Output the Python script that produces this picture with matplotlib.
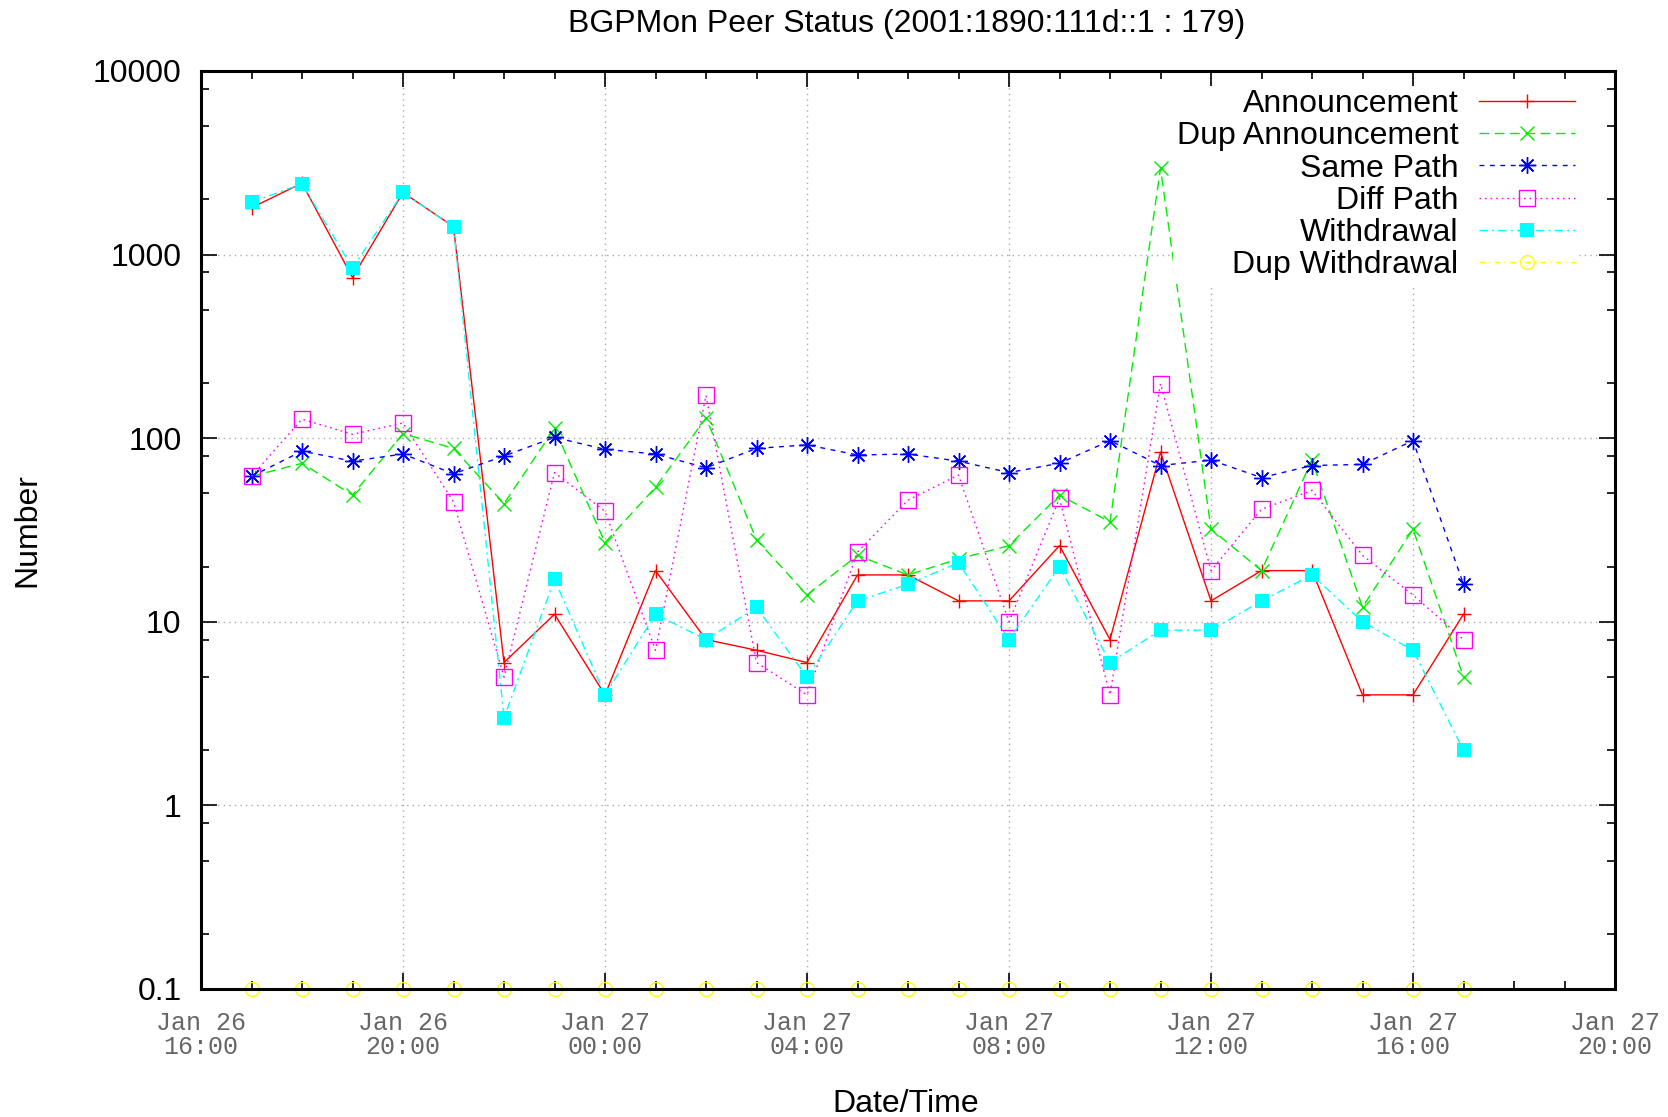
import matplotlib
matplotlib.use("Agg")
import matplotlib.pyplot as plt
import matplotlib.dates as mdates
from matplotlib.ticker import LogLocator, FixedLocator, FuncFormatter, NullFormatter
from datetime import datetime, timedelta

# ---- data -------------------------------------------------------------
start = datetime(2010, 1, 26, 17, 0)
times = [start + timedelta(hours=h) for h in range(25)]

announcement = [1800, 2450, 750, 2180, 1420, 6, 11, 4, 19, 8, 7, 6, 18, 18,
                13, 13, 26, 8, 84, 13, 19, 19, 4, 4, 11]
dup_announcement = [62, 73, 49, 106, 88, 44, 113, 27, 54, 129, 28, 14, 23, 18,
                    22, 26, 49, 35, 2950, 32, 19, 76, 12, 32, 5]
same_path = [62, 85, 75, 82, 64, 80, 101, 87, 82, 69, 88, 92, 81, 82,
             75, 65, 73, 97, 71, 76, 61, 71, 72, 97, 16]
diff_path = [62, 127, 105, 121, 45, 5, 65, 40, 7, 171, 6, 4, 24, 46,
             63, 10, 47, 4, 198, 19, 41, 52, 23, 14, 8]
withdrawal = [1930, 2430, 845, 2180, 1420, 3, 17, 4, 11, 8, 12, 5, 13, 16,
              21, 8, 20, 6, 9, 9, 13, 18, 10, 7, 2]
dup_withdrawal = [0.1] * 25

series_labels = ["Announcement", "Dup Announcement", "Same Path", "Diff Path",
                 "Withdrawal", "Dup Withdrawal"]

xmin = datetime(2010, 1, 26, 16, 0)
xmax = datetime(2010, 1, 27, 20, 0)
ytick_vals = [0.1, 1, 10, 100, 1000, 10000]

# ---- figure -----------------------------------------------------------
W, H = 1668, 1117
fig = plt.figure(figsize=(W / 100, H / 100), dpi=100)
L, R, T, B = 201, 1615, 71, 989
ax = fig.add_axes([L / W, 1 - B / H, (R - L) / W, (B - T) / H])

sans = "Liberation Sans"
mono = "Liberation Mono"
FS = 23

lw = 1.0
ax.plot(times, announcement, color="#ff0000", lw=lw, ls="-",
        marker="+", ms=10, mew=1.0, label=series_labels[0], zorder=3)
ax.plot(times, dup_announcement, color="#00ee00", lw=lw, ls=(0, (7, 4)),
        marker="x", ms=10, mew=1.0, label=series_labels[1], zorder=3)
ax.plot(times, same_path, color="#0000ff", lw=lw, ls=(0, (3.5, 4)),
        marker=(8, 2, 0), ms=12, mew=1.0, label=series_labels[2], zorder=3)
ax.plot(times, diff_path, color="#ff00ff", lw=lw, ls=(0, (1.2, 2.8)),
        marker="s", ms=11, mew=1.0, mfc="none", label=series_labels[3], zorder=3)
ax.plot(times, withdrawal, color="#00ffff", lw=lw, ls=(0, (6, 3, 1.5, 3)),
        marker="s", ms=10, mew=0, label=series_labels[4], zorder=3)
ax.plot(times, dup_withdrawal, color="#ffff00", lw=lw, ls=(0, (4, 3, 1, 3)),
        marker="o", ms=10, mew=1.0, mfc="none", label=series_labels[5],
        zorder=3, clip_on=False)

ax.set_yscale("log")
ax.set_ylim(0.1, 10000)
ax.set_xlim(xmin, xmax)

ax.yaxis.set_major_locator(FixedLocator(ytick_vals))
ax.yaxis.set_major_formatter(FuncFormatter(lambda v, p: "%g" % v))
ax.yaxis.set_minor_locator(LogLocator(base=10, subs=(2, 5, 8)))
ax.yaxis.set_minor_formatter(NullFormatter())

ax.xaxis.set_major_locator(mdates.HourLocator(byhour=range(0, 24, 4)))
ax.xaxis.set_minor_locator(mdates.HourLocator())
ax.xaxis.set_major_formatter(mdates.DateFormatter("%b %d\n%H:%M"))

ax.tick_params(which="both", direction="in", top=True, right=True, color="black")
ax.tick_params(which="major", length=11.5, width=1.2)
ax.tick_params(which="minor", length=6, width=1.2)
ax.tick_params(axis="y", which="major", pad=14, labelsize=FS)
ax.tick_params(axis="x", which="major", pad=16, labelsize=18, labelcolor="#666666")
for lab in ax.get_yticklabels():
    lab.set_fontfamily(sans)
for lab in ax.get_xticklabels():
    lab.set_fontfamily(mono)
    lab.set_linespacing(1.0)

ax.grid(True, which="major", color="#aaaaaa", ls=(0, (1, 3)), lw=1.0, zorder=0)
for s in ax.spines.values():
    s.set_linewidth(2.2)
    s.set_zorder(4)

fig.text(907 / W, 1 - 24 / H, "BGPMon Peer Status (2001:1890:111d::1 : 179)",
         ha="center", va="center", fontsize=FS, family=sans)
fig.text(906 / W, 1 - 1104 / H, "Date/Time", ha="center", va="center",
         fontsize=FS, family=sans)
fig.text(27 / W, 1 - ((B + T) / 2) / H, "Number", ha="center", va="center",
         rotation=90, fontsize=FS, family=sans)

leg = ax.legend(loc="upper right", bbox_to_anchor=(1578 / W, 1 - 86 / H),
                bbox_transform=fig.transFigure, markerfirst=False, numpoints=1,
                handlelength=3.0, handletextpad=0.65, labelspacing=0.07,
                borderpad=0.1, borderaxespad=0, frameon=True, fancybox=False,
                prop={"family": sans, "size": FS})
leg.get_frame().set_facecolor("white")
leg.get_frame().set_edgecolor("none")
leg.get_frame().set_alpha(1.0)
leg.set_zorder(5)

fig.savefig("out.png", dpi=100)
